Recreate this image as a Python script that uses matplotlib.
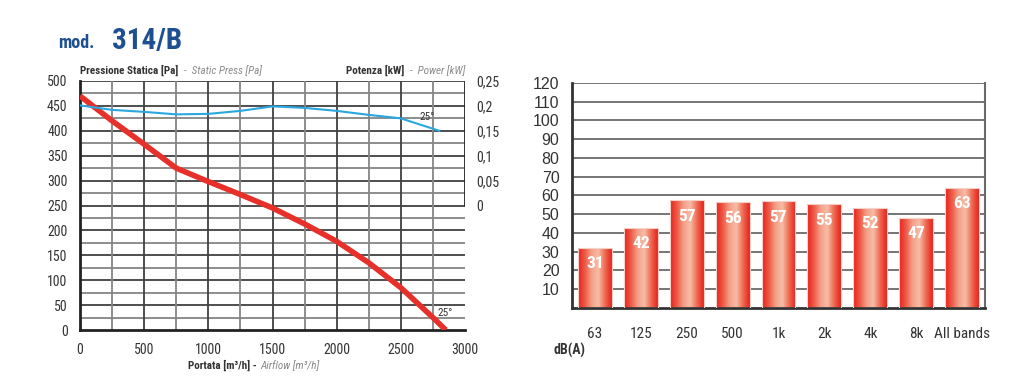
import numpy as np
import matplotlib
matplotlib.use("Agg")
import matplotlib.pyplot as plt
from matplotlib.colors import LinearSegmentedColormap
from matplotlib import font_manager

# pick a narrow font if one is installed
names = {f.name for f in font_manager.fontManager.ttflist}
COND = 'DejaVu Sans'
for cand in ['Liberation Sans Narrow', 'Roboto Condensed', 'Open Sans Condensed',
             'Noto Sans Display', 'DejaVu Sans Condensed']:
    if cand in names:
        COND = cand
        break
narrow = COND != 'DejaVu Sans'
k = 1.0 if narrow else 0.8

plt.rcParams['font.family'] = [COND, 'DejaVu Sans']

# fan curve data
airflow = [0, 250, 500, 750, 1000, 1250, 1500, 1750, 2000, 2250, 2500, 2750, 2850]
pressure = [470, 420, 373, 325, 298, 272, 245, 213, 178, 135, 85, 25, 0]
power_x = [0, 250, 500, 750, 1000, 1250, 1500, 1750, 2000, 2250, 2500, 2800]
power_kw = [0.201, 0.192, 0.188, 0.183, 0.184, 0.19, 0.199, 0.196, 0.19, 0.182, 0.175, 0.15]

# noise data
bands = ['63', '125', '250', '500', '1k', '2k', '4k', '8k', 'All bands']
bar_heights = [32, 42.7, 57.4, 56.3, 56.8, 55.2, 53.2, 48, 64]
bar_labels = ['31', '42', '57', '56', '57', '55', '52', '47', '63']

BLUE_T = '#1d4f91'
RED = '#e8302a'
LBLUE = '#2aa7df'
GRID = '#6a6a6a'
GRID_MAJ = '#404040'
GRID_MIN = '#858585'
TXT = '#333333'
ITAL = '#8a8a8a'

fig = plt.figure(figsize=(10.24, 3.89), dpi=100)

fig.text(58/1024, 1-48/389, 'mod.', fontsize=13*k, fontweight='bold', color=BLUE_T)
fig.text(112/1024, 1-49/389, '314/B', fontsize=21*k, fontweight='bold', color=BLUE_T)

# ---- left chart
ax = fig.add_axes([80/1024, 1-330/389, 385/1024, 249/389])
ax.set_xlim(0, 3000)
ax.set_ylim(0, 500)
ax.hlines(np.arange(25, 501, 50), 0, 3000, color=GRID_MIN, lw=1.3, zorder=1)
ax.hlines(np.arange(50, 501, 50), 0, 3000, color=GRID_MAJ, lw=1.3, zorder=1)
ax.vlines(np.arange(250, 3000, 500), 0, 500, color=GRID_MIN, lw=1.3, zorder=1)
ax.vlines(np.arange(500, 3000, 500), 0, 500, color=GRID_MAJ, lw=1.3, zorder=1)
ax.vlines([3000], 250, 500, color='#222222', lw=2, zorder=1)
for s in ['top', 'right']:
    ax.spines[s].set_visible(False)
for s in ['left', 'bottom']:
    ax.spines[s].set_linewidth(2)
    ax.spines[s].set_color('#222222')
ax.set_xticks(range(0, 3001, 500))
ax.set_yticks(range(0, 501, 50))
ax.tick_params(length=0, labelsize=10*k, colors=TXT, pad=9)

ax.plot(airflow, pressure, color=RED, lw=4, solid_capstyle='butt', zorder=3)

ax2 = ax.twinx()
ax2.set_ylim(-0.25, 0.25)
ax2.set_yticks([0, 0.05, 0.1, 0.15, 0.2, 0.25])
ax2.set_yticklabels(['0', '0,05', '0,1', '0,15', '0,2', '0,25'])
ax2.tick_params(length=0, labelsize=10*k, colors=TXT, pad=8)
for s in ['top', 'left', 'bottom', 'right']:
    ax2.spines[s].set_visible(False)
ax2.plot(power_x, power_kw, color=LBLUE, lw=1.5, zorder=2)

ax.text(2845, 34, '25°', fontsize=8*k, color=TXT, ha='center', va='center')
ax.text(2705, 427, '25°', fontsize=8*k, color=TXT, ha='center', va='center')

hs = 8*k
t1 = fig.text(80/1024, 1-74/389, 'Pressione Statica [Pa]', fontsize=hs, fontweight='bold', color=TXT)
ax.annotate('-  Static Press [Pa]', xy=(1, 0), xycoords=t1, xytext=(4, 0), textcoords='offset points',
            fontsize=hs, style='italic', color=ITAL, va='bottom', annotation_clip=False)
t2 = fig.text(465/1024, 1-74/389, '-  Power [kW]', fontsize=hs, style='italic', color=ITAL, ha='right')
ax.annotate('Potenza [kW]', xy=(0, 0), xycoords=t2, xytext=(-4, 0), textcoords='offset points',
            fontsize=hs, fontweight='bold', color=TXT, va='bottom', ha='right', annotation_clip=False)
fig.text(257/1024, 1-369/389, 'Portata [m³/h] -', fontsize=hs, fontweight='bold', color=TXT, ha='right')
fig.text(260/1024, 1-369/389, 'Airflow [m³/h]', fontsize=hs, style='italic', color=ITAL, ha='left')

# ---- right chart
bx = fig.add_axes([572/1024, 1-307.7/389, 413/1024, 224.7/389])
bx.set_xlim(-0.5, 8.5)
bx.set_ylim(0, 120)
bx.hlines(np.arange(10, 121, 10), -0.5, 8.5, color=GRID, lw=1.3, zorder=1)
bx.spines['top'].set_visible(False)
bx.spines['right'].set_color(GRID)
bx.spines['right'].set_linewidth(1.5)
for s in ['left', 'bottom']:
    bx.spines[s].set_linewidth(2)
    bx.spines[s].set_color('#333333')
bx.set_yticks(range(10, 121, 10))
bx.tick_params(axis='y', length=0, labelsize=11.5, colors=TXT, pad=9)
bx.set_xticks(range(len(bands)))
bx.set_xticklabels(bands)
bx.tick_params(axis='x', length=0, labelsize=11*k, colors=TXT, pad=14)

cmap = LinearSegmentedColormap.from_list('g', ['#e8201c', '#ee5a46', '#f4a088', '#f7bca6', '#ee6a52', '#e8221c'])
grad = np.linspace(0, 1, 100).reshape(1, -1)
bars = bx.bar(range(len(bands)), bar_heights, width=0.74, color='none', edgecolor='#f5d0c8', lw=0.8, zorder=3)
for b, lab in zip(bars, bar_labels):
    x0, w, h = b.get_x(), b.get_width(), b.get_height()
    im = bx.imshow(grad, cmap=cmap, extent=[x0, x0 + w, 0, h], aspect='auto', zorder=2)
    im.set_clip_path(b)
    bx.text(x0 + w / 2, h - 8.5, lab, color='white', fontsize=12.5*k, fontweight='bold',
            ha='center', va='center', zorder=4)
bx.set_xlim(-0.5, 8.5)
bx.set_ylim(0, 120)

wide = font_manager.FontProperties(family=['Liberation Sans', 'DejaVu Sans'], size=11.5)
for t in bx.get_yticklabels():
    t.set_fontproperties(wide)

fig.text(553/1024, 1-350/389, 'dB(A)', fontsize=10*k, fontweight='bold', color=TXT, va='center')

fig.savefig('out.png', dpi=100)
